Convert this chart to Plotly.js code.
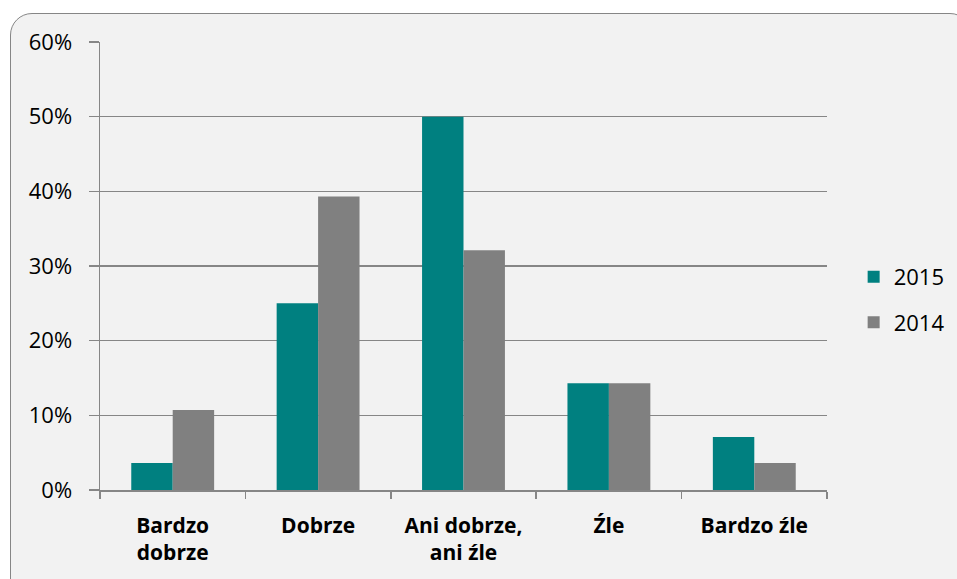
<!DOCTYPE html>
<html>
<head>
<meta charset="utf-8">
<script src="https://cdn.plot.ly/plotly-3.0.1.min.js"></script>
<style>
  html, body { margin: 0; padding: 0; background: #ffffff; overflow: hidden; }
  #frame { position: absolute; left: 10px; top: 13px; width: 960px; height: 590px;
           background: #f2f2f2; border: 1.5px solid #868686; border-radius: 22px; }
  #chart { position: absolute; left: 0; top: 0; width: 957px; height: 579px; }
</style>
</head>
<body>
<div id="frame"></div>
<div id="chart"></div>
<script>
const categories = ["Bardzo<br>dobrze", "Dobrze", "Ani dobrze,<br>ani źle", "Źle", "Bardzo źle"];
const values2015 = [3.6, 25.0, 50.0, 14.3, 7.1];
const values2014 = [10.7, 39.3, 32.1, 14.3, 3.6];
const yTicks = [0, 10, 20, 30, 40, 50, 60];

const font = "Open Sans, Noto Sans, sans-serif";
const traces = [
  { type: "bar", name: "2015", x: categories, y: values2015, marker: { color: "#008080" }, legendgroup: "a", hoverinfo: "y" },
  { type: "bar", name: "2014", x: categories, y: values2014, marker: { color: "#808080" }, legendgroup: "b", hoverinfo: "y" }
];
const layout = {
  width: 957, height: 579,
  paper_bgcolor: "rgba(0,0,0,0)", plot_bgcolor: "rgba(0,0,0,0)",
  margin: { l: 100, r: 130, t: 42, b: 89 },
  barmode: "group", bargap: 0.43, bargroupgap: 0,
  font: { family: font, size: 22, color: "#000000" },
  xaxis: {
    showline: true, linecolor: "#868686", linewidth: 1.5,
    ticks: "outside", tickson: "boundaries", ticklen: 7, tickcolor: "#868686", tickwidth: 1.5,
    ticklabelstandoff: 16,
    tickfont: { family: font, size: 21, color: "#000000", weight: "bold" },
    showgrid: false, fixedrange: true
  },
  yaxis: {
    range: [0, 60], tickvals: yTicks, ticktext: yTicks.map(v => v + "%"),
    showline: true, linecolor: "#868686", linewidth: 1.5,
    ticks: "outside", ticklen: 10, tickcolor: "#868686", tickwidth: 1.5,
    ticklabelstandoff: 12,
    showgrid: true, gridcolor: "#868686", gridwidth: 1.5,
    zeroline: false, tickfont: { family: font, size: 22, color: "#000000" },
    fixedrange: true
  },
  showlegend: true,
  legend: {
    xref: "container", yref: "container", x: 0.892, y: 0.482, xanchor: "left", yanchor: "middle",
    bgcolor: "rgba(0,0,0,0)", tracegroupgap: 14, traceorder: "grouped",
    font: { family: font, size: 22, color: "#000000" }
  }
};
Plotly.newPlot("chart", traces, layout, { displayModeBar: false, staticPlot: true });
</script>
</body>
</html>
